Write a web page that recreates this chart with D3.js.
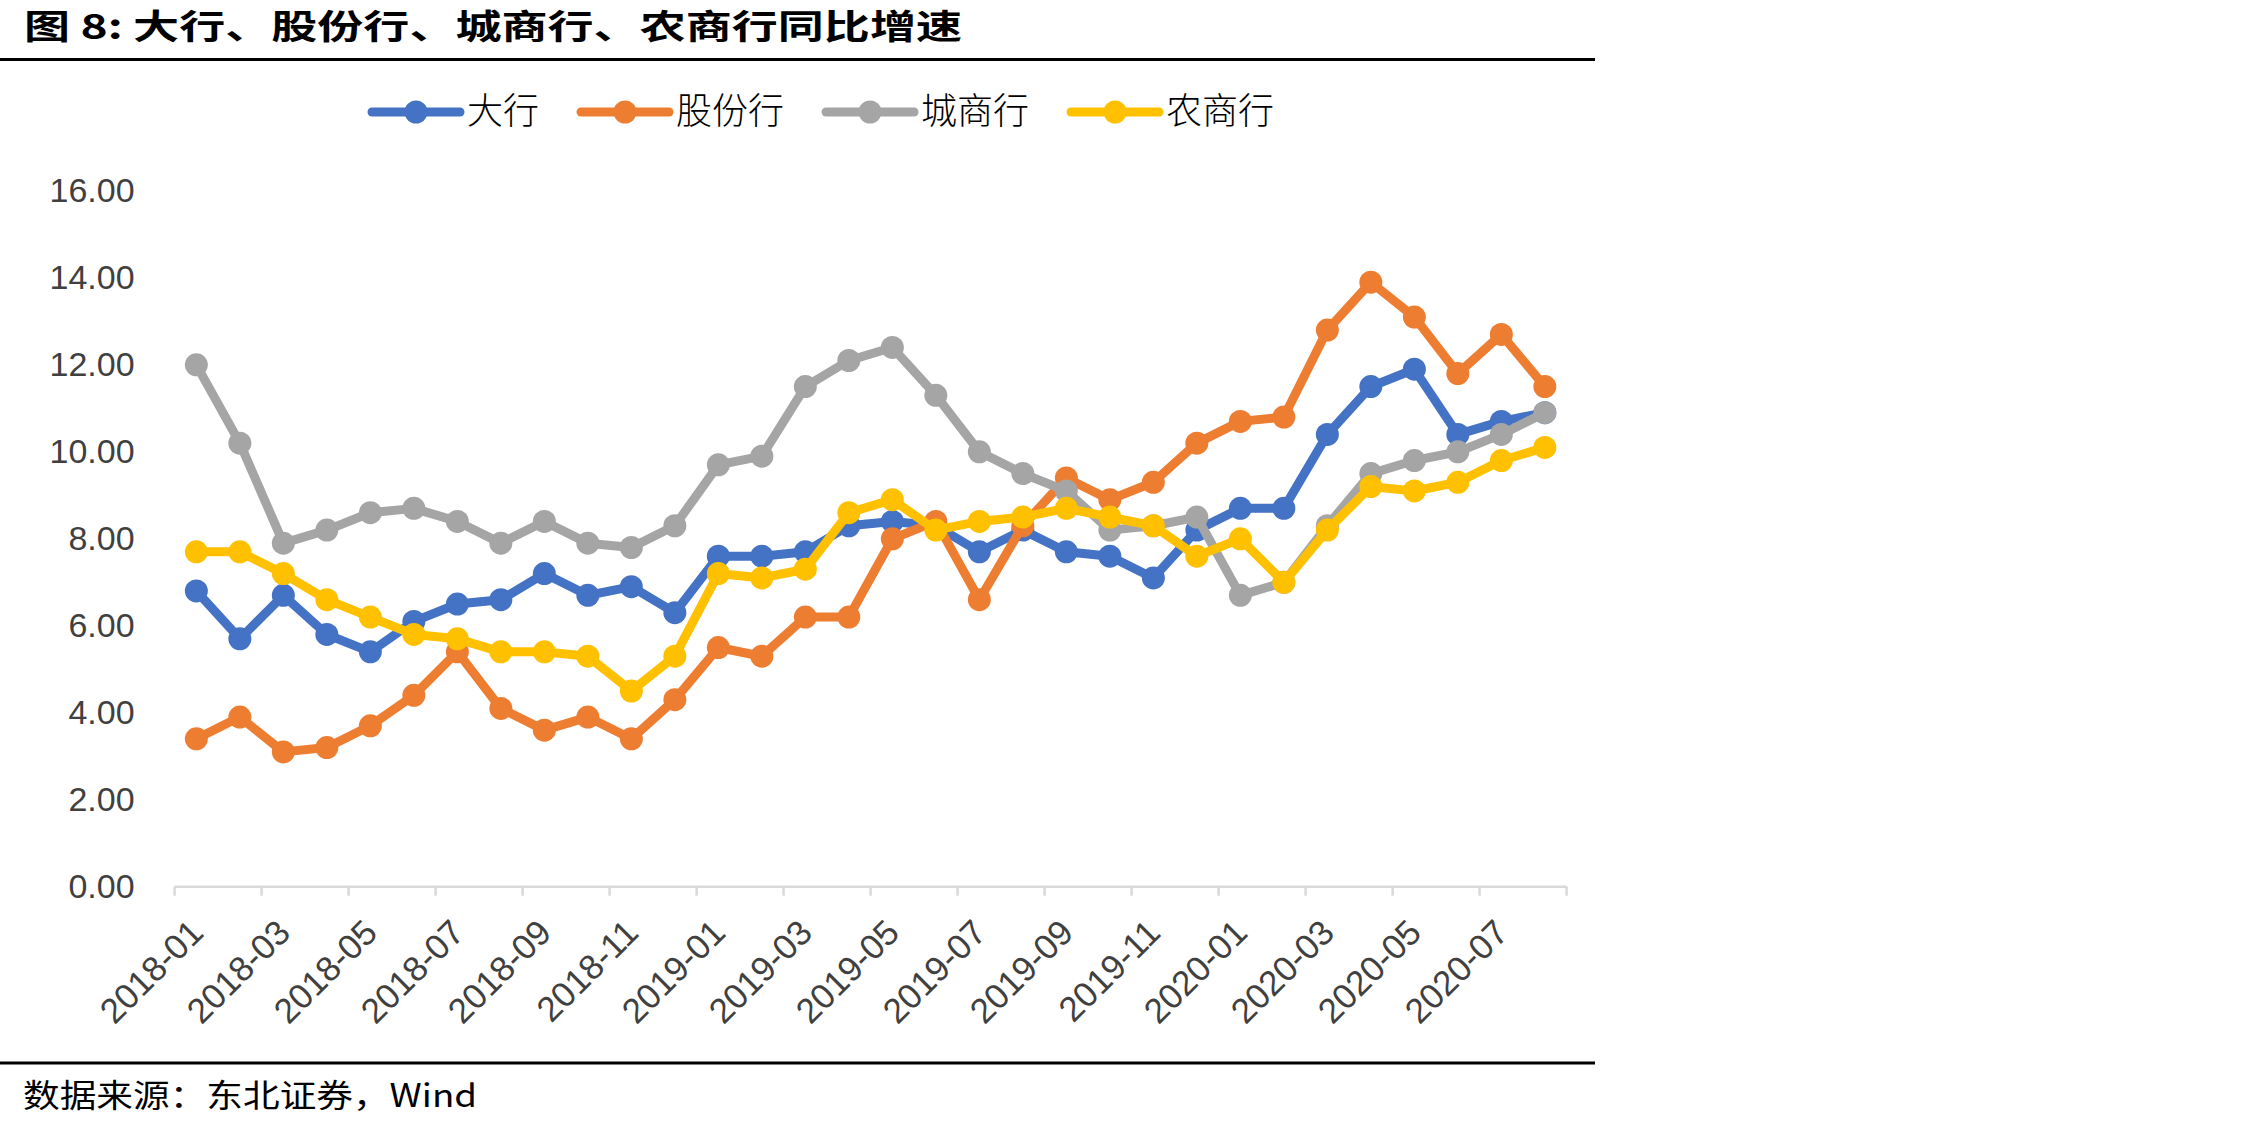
<!DOCTYPE html>
<html>
<head>
<meta charset="utf-8">
<script src="https://cdn.jsdelivr.net/npm/d3@7/dist/d3.min.js"></script>
<style>
  body { margin: 0; background: #fff; }
  svg { display: block; }
</style>
</head>
<body>
<svg width="2268" height="1129"></svg>
<script>
// months on the category axis
const months = [
  '2018-01','2018-02','2018-03','2018-04','2018-05','2018-06','2018-07','2018-08',
  '2018-09','2018-10','2018-11','2018-12','2019-01','2019-02','2019-03','2019-04',
  '2019-05','2019-06','2019-07','2019-08','2019-09','2019-10','2019-11','2019-12',
  '2020-01','2020-02','2020-03','2020-04','2020-05','2020-06','2020-07','2020-08'
];
const yTicks = [0, 2, 4, 6, 8, 10, 12, 14, 16];

const bigBanks   = [6.8,5.7,6.7,5.8,5.4,6.1,6.5,6.6,7.2,6.7,6.9,6.3,7.6,7.6,7.7,8.3,8.4,8.3,7.7,8.2,7.7,7.6,7.1,8.2,8.7,8.7,10.4,11.5,11.9,10.4,10.7,10.9];
const jointStock = [3.4,3.9,3.1,3.2,3.7,4.4,5.4,4.1,3.6,3.9,3.4,4.3,5.5,5.3,6.2,6.2,8.0,8.4,6.6,8.3,9.4,8.9,9.3,10.2,10.7,10.8,12.8,13.9,13.1,11.8,12.7,11.5];
const cityBanks  = [12.0,10.2,7.9,8.2,8.6,8.7,8.4,7.9,8.4,7.9,7.8,8.3,9.7,9.9,11.5,12.1,12.4,11.3,10.0,9.5,9.1,8.2,8.3,8.5,6.7,7.0,8.3,9.5,9.8,10.0,10.4,10.9];
const ruralBanks = [7.7,7.7,7.2,6.6,6.2,5.8,5.7,5.4,5.4,5.3,4.5,5.3,7.2,7.1,7.3,8.6,8.9,8.2,8.4,8.5,8.7,8.5,8.3,7.6,8.0,7.0,8.2,9.2,9.1,9.3,9.8,10.1];

const seriesNames = ['大行', '股份行', '城商行', '农商行'];
const seriesColors = ['#4472C4', '#ED7D31', '#A5A5A5', '#FFC000'];
const seriesValues = [bigBanks, jointStock, cityBanks, ruralBanks];

const svg = d3.select('svg');
const cjk = "'Noto Sans CJK SC', sans-serif";
const latin = "'Liberation Sans', Arial, sans-serif";

svg.append('rect').attr('width', 2268).attr('height', 1129).attr('fill', '#fff');

// title + rules
svg.append('text')
    .attr('x', 24).attr('y', 39)
    .attr('font-family', cjk)
    .attr('font-weight', 'bold')
    .attr('font-size', 34)
    .attr('textLength', 938)
    .attr('lengthAdjust', 'spacingAndGlyphs')
    .attr('fill', '#000')
    .text('图 8:  大行、股份行、城商行、农商行同比增速');

svg.append('line')
    .attr('x1', 0).attr('x2', 1595).attr('y1', 59.5).attr('y2', 59.5)
    .attr('stroke', '#000').attr('stroke-width', 3);

svg.append('line')
    .attr('x1', 0).attr('x2', 1595).attr('y1', 1063).attr('y2', 1063)
    .attr('stroke', '#000').attr('stroke-width', 3);

svg.append('text')
    .attr('x', 23).attr('y', 1107)
    .attr('font-family', cjk)
    .attr('font-size', 32)
    .attr('textLength', 454)
    .attr('lengthAdjust', 'spacingAndGlyphs')
    .attr('fill', '#000')
    .text('数据来源：东北证券，Wind');

// scales
const x = d3.scaleBand().domain(months).range([174.6, 1566.6]);
const y = d3.scaleLinear().domain([0, 16]).range([886.7, 190.9]);
const cx = d => x(d) + x.bandwidth() / 2;

// y axis (labels only)
const yAxis = svg.append('g')
    .attr('transform', 'translate(174.6,0)')
    .call(d3.axisLeft(y).tickValues(yTicks).tickFormat(d3.format('.2f')).tickSize(0).tickPadding(40));
yAxis.select('.domain').remove();
yAxis.selectAll('text')
    .attr('font-family', latin)
    .attr('font-size', 34)
    .attr('fill', '#404040');

// x axis
const axisY = y(0);
svg.append('line')
    .attr('x1', x.range()[0]).attr('x2', x.range()[1])
    .attr('y1', axisY).attr('y2', axisY)
    .attr('stroke', '#d9d9d9').attr('stroke-width', 2.5);

const tickCats = months.filter((m, i) => i % 2 === 0);
const tickXs = tickCats.map(m => x(m)).concat([x.range()[1]]);
svg.append('g').selectAll('line')
    .data(tickXs)
    .enter()
    .append('line')
    .attr('x1', d => d).attr('x2', d => d)
    .attr('y1', axisY).attr('y2', axisY + 9)
    .attr('stroke', '#d9d9d9').attr('stroke-width', 2.5);

svg.append('g').selectAll('text')
    .data(tickCats)
    .enter()
    .append('text')
    .attr('transform', d => 'translate(' + (cx(d) + 9) + ',' + (axisY + 48) + ') rotate(-45)')
    .attr('text-anchor', 'end')
    .attr('font-family', latin)
    .attr('font-size', 35)
    .attr('fill', '#404040')
    .text(d => d);

// series
const line = d3.line()
    .x((d, i) => cx(months[i]))
    .y(d => y(d));

seriesValues.forEach((vals, s) => {
    const g = svg.append('g');
    g.append('path')
        .datum(vals)
        .attr('d', line)
        .attr('fill', 'none')
        .attr('stroke', seriesColors[s])
        .attr('stroke-width', 9)
        .attr('stroke-linejoin', 'round')
        .attr('stroke-linecap', 'round');
    g.selectAll('circle')
        .data(vals)
        .enter()
        .append('circle')
        .attr('cx', (d, i) => cx(months[i]))
        .attr('cy', d => y(d))
        .attr('r', 11.5)
        .attr('fill', seriesColors[s]);
});

// legend
const legend = svg.append('g').attr('transform', 'translate(372,112)');
let lx = 0;
seriesNames.forEach((name, s) => {
    const item = legend.append('g').attr('transform', 'translate(' + lx + ',0)');
    item.append('line')
        .attr('x1', 0).attr('x2', 88).attr('y1', 0).attr('y2', 0)
        .attr('stroke', seriesColors[s]).attr('stroke-width', 9)
        .attr('stroke-linecap', 'round');
    item.append('circle')
        .attr('cx', 44).attr('cy', 0).attr('r', 11.5)
        .attr('fill', seriesColors[s]);
    const t = item.append('text')
        .attr('x', 95).attr('y', 12)
        .attr('font-family', cjk)
        .attr('font-weight', 300)
        .attr('font-size', 36)
        .attr('fill', '#000')
        .text(name);
    lx += 95 + t.node().getComputedTextLength() + 42;
});
</script>
</body>
</html>
